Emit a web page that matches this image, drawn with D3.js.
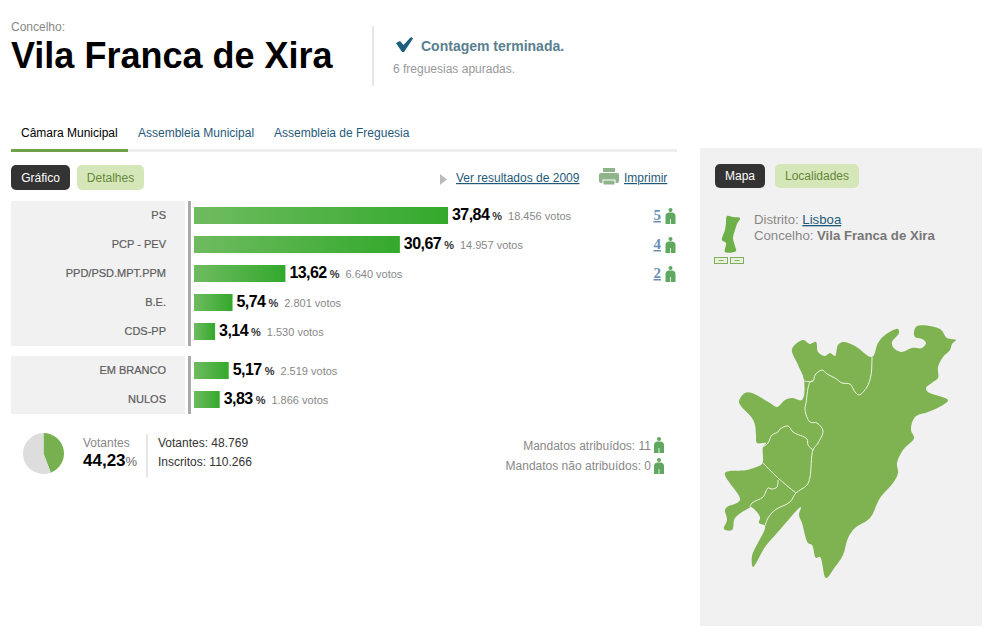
<!DOCTYPE html>
<html>
<head>
<meta charset="utf-8">
<script src="https://cdn.jsdelivr.net/npm/d3@7"></script>
<style>
  html, body { margin: 0; padding: 0; background: #fff; }
  svg { display: block; }
  text { font-family: "Liberation Sans", Arial, sans-serif; }
</style>
</head>
<body>
<div id="chart"></div>
<script>
// results
const parties = ["PS", "PCP - PEV", "PPD/PSD.MPT.PPM", "B.E.", "CDS-PP"];
const partyPct = [37.84, 30.67, 13.62, 5.74, 3.14];
const partyPctLabels = ["37,84", "30,67", "13,62", "5,74", "3,14"];
const partyVotes = ["18.456", "14.957", "6.640", "2.801", "1.530"];
const partySeats = ["5", "4", "2", "", ""];

const others = ["EM BRANCO", "NULOS"];
const otherPct = [5.17, 3.83];
const otherPctLabels = ["5,17", "3,83"];
const otherVotes = ["2.519", "1.866"];

const turnout = [44.23, 55.77];

// map outline and parish borders
const mapOutline = [[792,349],[803,340],[810,344],[816,342],[818,352],[825,356],[830,353],[835,356],[838,345],[843,342],[855,346],[872,357],[878,343],[885,335],[898,329],[899,333],[892,342],[893,347],[901,352],[912,348],[922,348],[926,343],[922,339],[915,337],[914,332],[917,326],[940,329],[947,338],[956,340],[952,344],[950,350],[943,357],[938,367],[938,378],[933,382],[926,388],[928,392],[948,400],[943,405],[928,412],[915,417],[911,430],[914,438],[903,450],[897,463],[898,473],[893,483],[880,498],[870,518],[855,528],[848,538],[843,555],[835,567],[826,578],[820,557],[816,558],[812,545],[808,543],[802,523],[799,515],[801,507],[797,510],[790,518],[777,533],[765,547],[753,567],[752,556],[765,526],[759,523],[760,517],[751,507],[749,508],[735,518],[732,530],[724,529],[727,520],[725,510],[727,507],[740,500],[725,473],[747,470],[762,464],[763,460],[763,447],[766,443],[757,443],[756,435],[755,425],[752,418],[739,402],[745,393],[752,393],[760,397],[770,403],[777,407],[785,400],[792,398],[802,400],[804,380],[798,365]];
const mapBorders = [
  [[872,357],[871,375],[867,387],[859,395],[855,392],[850,384],[842,383],[835,378],[827,374],[822,370],[815,375],[813,381],[804,381]],
  [[813,381],[810,382],[806,403],[805,410],[810,422],[817,423],[823,431],[818,443],[813,450],[810,477],[807,485],[796,493],[790,502],[775,510],[768,518],[765,526]],
  [[763,447],[768,443],[772,435],[778,432],[780,429],[788,426],[793,432],[807,439],[808,445],[813,450]],
  [[763,463],[778,478],[796,493]],
  [[778,480],[777,487],[772,489],[768,488],[763,497],[752,503],[750,507]]
];
const miniMapOutline = [[727,216],[733,217],[740,218],[737,224],[735,230],[733,238],[735,246],[736,251],[725,252],[726,243],[722,240],[725,230],[726,223]];

const width = 1000;
const height = 637;
const sansGrey = "#888";
const linkBlue = "#1f5a7a";
const iconGreen = "#60a860";

const svg = d3.select("#chart").append("svg")
  .attr("width", width)
  .attr("height", height);

const grad = svg.append("defs").append("linearGradient").attr("id", "barFill");
grad.append("stop").attr("offset", "0%").attr("stop-color", "#6fbb60");
grad.append("stop").attr("offset", "100%").attr("stop-color", "#33a92c");

function label(x, y, txt, size, fill, opts = {}) {
  return svg.append("text")
    .attr("x", x).attr("y", y)
    .attr("font-size", size)
    .attr("fill", fill)
    .attr("font-weight", opts.weight || "normal")
    .attr("text-anchor", opts.anchor || "start")
    .attr("text-decoration", opts.underline ? "underline" : null)
    .text(txt);
}

function button(x, y, w, h, txt, active) {
  svg.append("rect").attr("x", x).attr("y", y).attr("width", w).attr("height", h)
    .attr("rx", 5).attr("fill", active ? "#333" : "#d5e6b9");
  label(x + w / 2, y + h / 2 + 4, txt, 12, active ? "#fff" : "#66863a", {anchor: "middle"});
}

function person(x, y, h) {
  // small standing figure used next to the seat counts
  const k = h / 16;
  const g = svg.append("g").attr("transform", `translate(${x},${y}) scale(${k})`).attr("fill", iconGreen);
  g.append("circle").attr("cx", 5).attr("cy", 2).attr("r", 2);
  g.append("path").attr("d", "M0,8 Q0,5 3,4.5 H7 Q10,5 10,8 V16 H5.4 V11 H4.6 V16 H0 Z");
}

// header
label(11, 31, "Concelho:", 12, sansGrey);
label(11, 68, "Vila Franca de Xira", 36, "#000", {weight: "bold"});
svg.append("line").attr("x1", 373).attr("x2", 373).attr("y1", 26).attr("y2", 86).attr("stroke", "#ccc");
svg.append("path")
  .attr("d", "M396,43 L400,41 L403.5,45 L411,37 L413,38.5 L404,52 L402,52 Z")
  .attr("fill", "#1b5e7d");
label(421, 51, "Contagem terminada.", 14, "#5a8090", {weight: "bold"});
label(393, 73, "6 freguesias apuradas.", 12, "#999");

// tabs
label(21, 137, "Câmara Municipal", 12, "#000");
label(138, 137, "Assembleia Municipal", 12, linkBlue);
label(274, 137, "Assembleia de Freguesia", 12, linkBlue);
svg.append("rect").attr("x", 11).attr("y", 149).attr("width", 666).attr("height", 3).attr("fill", "#eee");
svg.append("rect").attr("x", 11).attr("y", 149).attr("width", 117).attr("height", 3).attr("fill", "#6fa04a");

// toolbar
button(11, 165, 59, 25, "Gráfico", true);
button(77, 165, 67, 25, "Detalhes", false);
svg.append("path").attr("d", "M440,174 L447,179.5 L440,185 Z").attr("fill", "#bbb");
label(456, 182, "Ver resultados de 2009", 12, linkBlue, {underline: true});
const printer = svg.append("g").attr("fill", "#8fb48a");
printer.append("rect").attr("x", 599).attr("y", 173).attr("width", 20).attr("height", 10).attr("rx", 2);
printer.append("rect").attr("x", 603).attr("y", 168).attr("width", 12).attr("height", 4);
printer.append("rect").attr("x", 603).attr("y", 180).attr("width", 12).attr("height", 5).attr("stroke", "#fff");
label(624, 182, "Imprimir", 12, linkBlue, {underline: true});

// bars
const x = d3.scaleLinear().domain([0, 37.84]).range([194, 448]);
const yParties = d3.scaleBand().domain(parties).range([201, 346])
  .paddingInner(12 / 29).paddingOuter(6 / 29);
const yOthers = d3.scaleBand().domain(others).range([356, 414])
  .paddingInner(12 / 29).paddingOuter(6 / 29);

function drawGroup(names, pct, pctLabels, votes, y) {
  const [top, bottom] = y.range();
  svg.append("rect").attr("x", 11).attr("y", top).attr("width", 174).attr("height", bottom - top).attr("fill", "#f1f1f1");
  svg.append("rect").attr("x", 188).attr("y", top).attr("width", 3).attr("height", bottom - top).attr("fill", "#aaa");

  const rows = names.map((name, i) => ({name, pct: pct[i], pctLabel: pctLabels[i], votes: votes[i]}));
  const row = svg.append("g").selectAll("g").data(rows).join("g");

  row.append("rect")
    .attr("x", x(0))
    .attr("y", d => y(d.name))
    .attr("width", d => x(d.pct) - x(0))
    .attr("height", y.bandwidth())
    .attr("fill", "url(#barFill)");

  row.append("text")
    .attr("x", 166)
    .attr("y", d => y(d.name) + 12)
    .attr("text-anchor", "end")
    .attr("font-size", 11)
    .attr("fill", "#5c5c5c")
    .attr("stroke", "#5c5c5c")
    .attr("stroke-width", 0.2)
    .text(d => d.name);

  const value = row.append("text")
    .attr("x", d => x(d.pct) + 4)
    .attr("y", d => y(d.name) + 13);
  value.append("tspan").attr("font-size", 16).attr("letter-spacing", -0.55).attr("font-weight", "bold").attr("fill", "#000").text(d => d.pctLabel);
  value.append("tspan").attr("dx", 3).attr("font-size", 11).attr("font-weight", "bold").attr("fill", "#333").text("%");
  value.append("tspan").attr("dx", 6).attr("font-size", 11).attr("fill", sansGrey).text(d => d.votes + " votos");
}

drawGroup(parties, partyPct, partyPctLabels, partyVotes, yParties);
drawGroup(others, otherPct, otherPctLabels, otherVotes, yOthers);

// seats
parties.forEach((p, i) => {
  if (!partySeats[i]) return;
  svg.append("text")
    .attr("x", 661).attr("y", yParties(p) + 13)
    .attr("text-anchor", "end")
    .style("font-family", "'Liberation Serif', serif")
    .attr("font-size", 15).attr("font-weight", "bold")
    .attr("text-decoration", "underline")
    .attr("fill", "#6a8fb5")
    .text(partySeats[i]);
  person(665.5, yParties(p) + 1, 16);
});

// turnout pie
const pie = d3.pie().sort(null)(turnout);
const arc = d3.arc().innerRadius(0).outerRadius(20.5);
svg.append("g").attr("transform", "translate(43.5,453.5)")
  .selectAll("path").data(pie).join("path")
  .attr("d", arc)
  .attr("fill", (d, i) => i === 0 ? "#76b04f" : "#ddd");

label(83, 447, "Votantes", 12, sansGrey);
const pctText = label(83, 466, "", 17, "#000", {weight: "bold"});
pctText.append("tspan").text("44,23");
pctText.append("tspan").attr("font-size", 13).attr("font-weight", "normal").attr("fill", "#666").text("%");
svg.append("line").attr("x1", 147).attr("x2", 147).attr("y1", 434).attr("y2", 477).attr("stroke", "#ccc");
label(158, 447, "Votantes: 48.769", 12, "#333");
label(158, 466, "Inscritos: 110.266", 12, "#333");

label(651, 450, "Mandatos atribuídos: 11", 12, sansGrey, {anchor: "end"});
label(651, 470, "Mandatos não atribuídos: 0", 12, sansGrey, {anchor: "end"});
person(654, 437, 16);
person(654, 458, 16);

// right panel
svg.append("rect").attr("x", 700).attr("y", 148).attr("width", 282).attr("height", 478).attr("fill", "#f1f1f1");
button(715, 164, 50, 24, "Mapa", true);
button(775, 164, 84, 24, "Localidades", false);

const mapX = d3.scaleLinear().domain([720, 960]).range([720, 960]);
const mapY = d3.scaleLinear().domain([320, 580]).range([320, 580]);
const closedShape = d3.line().x(d => mapX(d[0])).y(d => mapY(d[1])).curve(d3.curveCatmullRomClosed.alpha(0.5));
const openShape = d3.line().x(d => mapX(d[0])).y(d => mapY(d[1])).curve(d3.curveCatmullRom.alpha(0.5));

svg.append("path").attr("d", closedShape(miniMapOutline)).attr("fill", "#6db048");
[714.5, 730.5].forEach(bx => {
  svg.append("rect").attr("x", bx).attr("y", 257.5).attr("width", 13).attr("height", 6).attr("fill", "#e8f1dc").attr("stroke", "#7fb060");
  svg.append("line").attr("x1", bx + 4).attr("x2", bx + 9).attr("y1", 260.5).attr("y2", 260.5).attr("stroke", "#7fb060");
});

const d1 = label(754, 224, "Distrito: ", 13.2, sansGrey);
d1.append("tspan").attr("fill", linkBlue).attr("text-decoration", "underline").text("Lisboa");
const d2 = label(754, 240, "Concelho: ", 13.2, sansGrey);
d2.append("tspan").attr("font-weight", "bold").attr("fill", "#777").text("Vila Franca de Xira");

svg.append("path").attr("d", closedShape(mapOutline)).attr("fill", "#7fb352");
svg.append("g").selectAll("path").data(mapBorders).join("path")
  .attr("d", openShape)
  .attr("fill", "none")
  .attr("stroke", "#eef5e2")
  .attr("stroke-width", 1);
</script>
</body>
</html>
